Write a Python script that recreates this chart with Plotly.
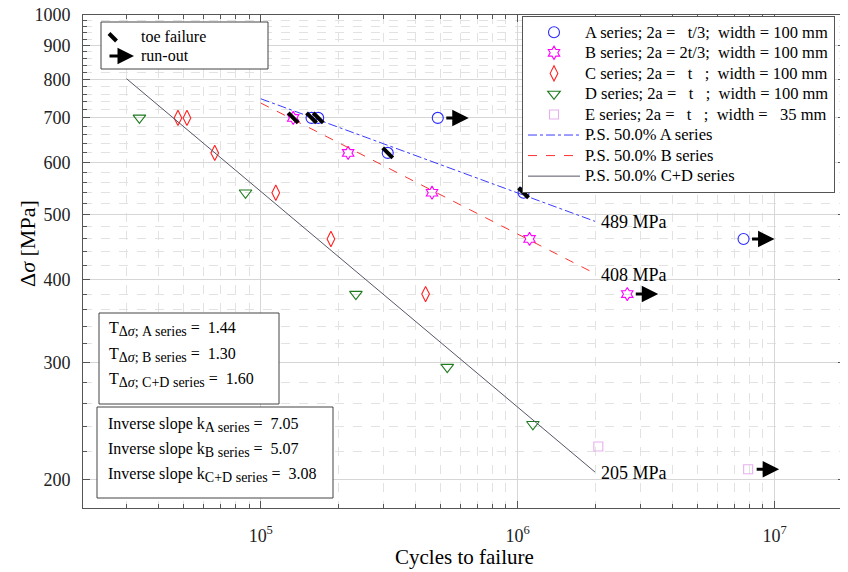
import plotly.graph_objects as go
import math

# ---------------- data ----------------
a_cycles = [157600, 167300, 312000, 1054000, 488600, 7570000]
a_stress = [700, 700, 620, 540, 700, 460]
a_toe = [True, True, True, True, False, False]
a_runout = [False, False, False, False, True, True]

b_cycles = [133700, 218800, 464000, 1112000, 2670000]
b_stress = [700, 620, 540, 460, 380]
b_toe = [True, False, False, False, False]
b_runout = [False, False, False, False, True]

c_cycles = [47600, 51600, 66200, 114400, 187500, 438000]
c_stress = [700, 700, 620, 540, 460, 380]

d_cycles = [33700, 87200, 234500, 532000, 1146000]
d_stress = [700, 540, 380, 295, 242]

e_cycles = [2060000, 7890000]
e_stress = [224, 207]
e_runout = [False, True]

ps_a_cycles = [1e5, 2e6]
ps_a_stress = [748, 489]
ps_b_cycles = [1e5, 2e6]
ps_b_stress = [737, 408]
ps_cd_cycles = [3e4, 2e6]
ps_cd_stress = [802, 205]

x_tickvals = [1e5, 1e6, 1e7]
x_ticktext = ["10<sup>5</sup>", "10<sup>6</sup>", "10<sup>7</sup>"]
y_tickvals = [200, 300, 400, 500, 600, 700, 800, 900, 1000]

scatter_T = [("A series", "1.44"), ("B series", "1.30"), ("C+D series", "1.60")]
inv_slope = [("A series", "7.05"), ("B series", "5.07"), ("C+D series", "3.08")]

# ---------------- styling ----------------
SERIF = "Liberation Serif, Times New Roman, serif"
NB = "\u00a0"
OFF = 8                     # page body margin of the html page
W, H = 840, 564
L, R, T, B = 75, 3, 7, 64


def xp(px):
    return (px - OFF - L) / (W - L - R)


def yp(py):
    return (H - B - (py - OFF)) / (H - T - B)


def big(s):
    return f'<span style="font-size:16.5px">{s}</span>'


def sub(s):
    return f'<sub><span style="font-size:14px">{s}</span></sub>'


fig = go.Figure()


def add_series(name, cyc, s, symbol, color, size):
    fig.add_trace(go.Scatter(
        x=cyc, y=s, mode="markers", name=big(name),
        marker=dict(symbol=symbol, size=size, color=color,
                    line=dict(color=color, width=1.1))))


add_series(f"A series; 2a ={NB*3}t/3;{NB*2}width = 100 mm", a_cycles, a_stress,
           "circle-open", "#2b2bff", 11)
add_series(f"B series; 2a = 2t/3;{NB*2}width = 100 mm", b_cycles, b_stress,
           "hexagram-open", "#ff00ff", 10)
add_series(f"C series; 2a ={NB*3}t{NB*3};{NB*2}width = 100 mm", c_cycles, c_stress,
           "diamond-tall-open", "#ff2020", 11)
add_series(f"D series; 2a ={NB*3}t{NB*3};{NB*2}width = 100 mm", d_cycles, d_stress,
           "triangle-down-open", "#1e7a1e", 11)
add_series(f"E series; 2a ={NB*3}t{NB*3};{NB*2}width ={NB*3}35 mm", e_cycles, e_stress,
           "square-open", "#e6b0f0", 9)

fig.add_trace(go.Scatter(x=ps_a_cycles, y=ps_a_stress, mode="lines",
                         name=big("P.S. 50.0% A series"),
                         line=dict(color="#3b3bff", width=1, dash="dashdot")))
fig.add_trace(go.Scatter(x=ps_b_cycles, y=ps_b_stress, mode="lines",
                         name=big("P.S. 50.0% B series"),
                         line=dict(color="#ff3030", width=1, dash="dash")))
fig.add_trace(go.Scatter(x=ps_cd_cycles, y=ps_cd_stress, mode="lines",
                         name=big("P.S. 50.0% C+D series"),
                         line=dict(color="#555566", width=1)))

# toe failure marks
toe_x = [c for c, t in zip(a_cycles, a_toe) if t] + [c for c, t in zip(b_cycles, b_toe) if t]
toe_y = [s for s, t in zip(a_stress, a_toe) if t] + [s for s, t in zip(b_stress, b_toe) if t]
fig.add_trace(go.Scatter(x=toe_x, y=toe_y, mode="markers", showlegend=False,
                         marker=dict(symbol="line-nw", size=10, color="black",
                                     line=dict(color="black", width=4))))

annotations = []
# run-out arrows
for cyc, s, ro in [(a_cycles, a_stress, a_runout), (b_cycles, b_stress, b_runout),
                   (e_cycles, e_stress, e_runout)]:
    for c, v, r in zip(cyc, s, ro):
        if r:
            annotations.append(dict(
                x=math.log10(c), y=math.log10(v), xref="x", yref="y",
                text="", showarrow=True, ax=-24, ay=0, xshift=31,
                arrowhead=2, arrowsize=1.1, arrowwidth=3, arrowcolor="black"))

# line end labels
for cyc, s in [(ps_a_cycles, ps_a_stress), (ps_b_cycles, ps_b_stress),
               (ps_cd_cycles, ps_cd_stress)]:
    annotations.append(dict(
        x=math.log10(cyc[-1]), y=math.log10(s[-1]), xref="x", yref="y",
        text=f"{s[-1]} MPa", showarrow=False, xanchor="left", yanchor="middle",
        xshift=4, yshift=-1, font=dict(family=SERIF, size=18, color="black")))

# axis titles placed as text
annotations.append(dict(x=xp(27), y=yp(244), xref="paper", yref="paper",
                        text="Δ<i>σ</i> [MPa]", textangle=-90, showarrow=False,
                        xanchor="center", yanchor="middle",
                        font=dict(family=SERIF, size=22, color="black")))
annotations.append(dict(x=xp(464), y=yp(557), xref="paper", yref="paper",
                        text="Cycles to failure", showarrow=False,
                        xanchor="center", yanchor="middle",
                        font=dict(family=SERIF, size=21, color="black")))

# top-left legend box contents
annotations.append(dict(x=xp(139), y=yp(36), xref="paper", yref="paper",
                        text="toe failure", showarrow=False, xanchor="left",
                        yanchor="middle", font=dict(family=SERIF, size=16, color="black")))
annotations.append(dict(x=xp(139), y=yp(56), xref="paper", yref="paper",
                        text="run-out", showarrow=False, xanchor="left",
                        yanchor="middle", font=dict(family=SERIF, size=16, color="black")))
annotations.append(dict(x=xp(134), y=yp(56), xref="paper", yref="paper",
                        text="", showarrow=True, ax=-26, ay=0,
                        arrowhead=2, arrowsize=1.1, arrowwidth=3, arrowcolor="black"))

# text boxes
for i, (lab, val) in enumerate(scatter_T):
    annotations.append(dict(
        x=xp(107), y=yp(329 + 25.5 * i), xref="paper", yref="paper",
        text=f"T{sub('Δ<i>σ</i>; ' + lab)} ={NB}{NB}{val}", showarrow=False,
        xanchor="left", yanchor="middle",
        font=dict(family=SERIF, size=16, color="black")))
for i, (lab, val) in enumerate(inv_slope):
    annotations.append(dict(
        x=xp(106), y=yp(425 + 25 * i), xref="paper", yref="paper",
        text=f"Inverse slope k{sub(lab)} ={NB}{NB}{val}", showarrow=False,
        xanchor="left", yanchor="middle",
        font=dict(family=SERIF, size=16, color="black")))

shapes = [
    dict(type="rect", xref="paper", yref="paper", x0=xp(101), x1=xp(268),
         y0=yp(69), y1=yp(22), line=dict(color="#444", width=1), fillcolor="white",
         layer="above"),
    dict(type="line", xref="paper", yref="paper", x0=xp(109), x1=xp(116.5),
         y0=yp(33.5), y1=yp(41), line=dict(color="black", width=4)),
    dict(type="rect", xref="paper", yref="paper", x0=xp(99), x1=xp(279),
         y0=yp(404), y1=yp(313), line=dict(color="#444", width=1), fillcolor="white",
         layer="above"),
    dict(type="rect", xref="paper", yref="paper", x0=xp(97), x1=xp(333),
         y0=yp(498), y1=yp(407), line=dict(color="#444", width=1), fillcolor="white",
         layer="above"),
]

x_minor = [m * 10 ** e for e in (4, 5, 6) for m in range(2, 10) if m * 10 ** e > 2.1e4]
y_minor = [v for v in range(200, 1000, 20) if v % 100 != 0]

axis_common = dict(
    type="log", showline=True, linecolor="#555", linewidth=1, mirror="allticks",
    ticks="inside", ticklen=7, tickcolor="#555", tickwidth=1, automargin=False,
    showgrid=True, gridcolor="#d6d6d6", gridwidth=1, zeroline=False,
    ticklabeloverflow="allow",
    tickfont=dict(family=SERIF, size=18, color="#222"),
)

fig.update_layout(
    width=W, height=H,
    margin=dict(l=L, r=R, t=T, b=B),
    paper_bgcolor="white", plot_bgcolor="white",
    font=dict(family=SERIF, color="black"),
    xaxis=dict(**axis_common, range=[4.308, 7.274], tickvals=x_tickvals,
               ticktext=x_ticktext, ticklabelstandoff=11,
               minor=dict(tickvals=x_minor, ticks="inside", ticklen=4, tickcolor="#555",
                          showgrid=True, gridcolor="#e2e2e2", griddash="dash")),
    yaxis=dict(**axis_common, range=[math.log10(181), 3], tickvals=y_tickvals,
               ticktext=[str(v) for v in y_tickvals], ticklabelstandoff=8,
               minor=dict(tickvals=y_minor, ticks="inside", ticklen=4, tickcolor="#555",
                          showgrid=True, gridcolor="#e2e2e2", griddash="dash")),
    legend=dict(x=xp(835), y=yp(16), xanchor="right", yanchor="top",
                bordercolor="#555", borderwidth=1, bgcolor="white",
                font=dict(family=SERIF, size=13.5, color="black"),
                itemwidth=52, tracegroupgap=0),
    annotations=annotations,
    shapes=shapes,
    showlegend=True,
)

fig.write_html("out.html")
